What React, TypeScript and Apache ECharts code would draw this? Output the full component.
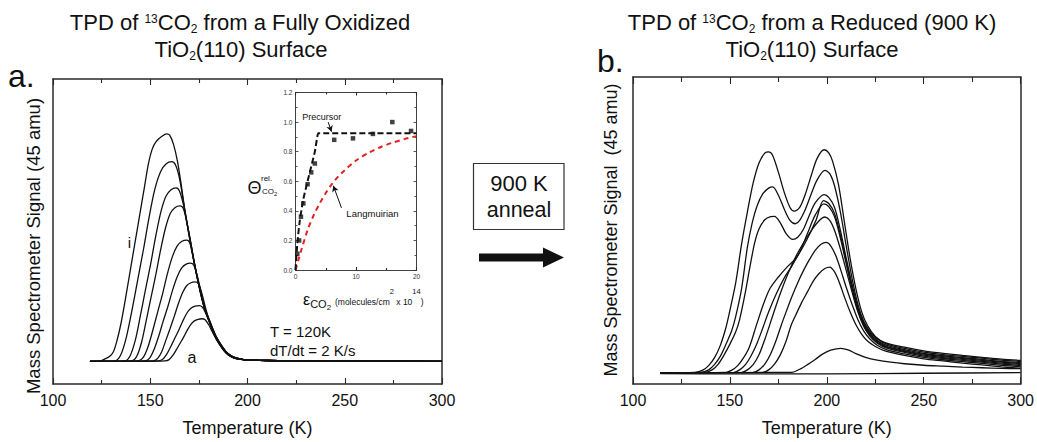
import React, { useEffect, useRef } from "react";
import * as echarts from "echarts";

const FONT = "'Liberation Sans', Arial, Helvetica, sans-serif";

// ---------- Panel a: TPD from fully oxidized surface (T in K, signal arb.) ----------
const tempTicks = [100, 150, 200, 250, 300];
const aCurveI = [[119,7.4],[124,7.5],[127,8.3],[129,9],[131,10.5],[133,14.5],[135,20],[137,27],[139,34.5],[141,42],[143,49.5],[145,57],[147,64.5],[149,72],[151,77],[153,79.5],[156,81.2],[158.5,82],[160,81.6],[162,78.5],[164,73],[166,65],[168,56],[170,48.5],[172,41.5],[174,35.5],[176,30],[178,25],[180.8,20.4],[184,15.5],[187.6,11.8],[190,10],[193,8.8],[198,8.0],[210,7.7],[230,7.6],[260,7.5],[300,7.4]];
const aCurveH = [[119,7.4],[128,7.5],[131.9,7.6],[134.8,9.5],[137.7,15.3],[140.7,24.5],[143.6,34.3],[146.5,44.1],[149.4,54.6],[152.3,63.7],[155.3,69.6],[158.2,72.2],[161.1,72.9],[163,71.8],[165,67.5],[167,60],[169,52.5],[171,45.5],[173,38.5],[175.5,31],[178,24.7],[180.8,20.2],[184,15.3],[187.6,11.7],[190,9.9],[193,8.8],[198,8.0],[210,7.7],[230,7.6],[260,7.5],[300,7.4]];
const aCurveG = [[119,7.4],[132,7.5],[137,7.6],[139.6,9.2],[142.3,14.3],[144.9,22.3],[147.5,30.8],[150.2,39.3],[152.8,48.4],[155.4,56.3],[158,61.5],[160.7,63.7],[163.3,64.3],[165,63.3],[167,59],[169,52.5],[171,45.5],[173,38.5],[175.5,31],[178,24.6],[180.8,20],[184,15.2],[187.6,11.6],[190,9.9],[193,8.7],[198,8.0],[210,7.7],[230,7.6],[260,7.5],[300,7.4]];
const aCurveF = [[119,7.4],[135,7.5],[140.5,7.6],[143,9.0],[145.5,13.6],[147.9,20.7],[150.4,28.4],[152.9,36],[155.4,44.2],[157.9,51.3],[160.3,55.9],[162.8,57.9],[165.3,58.4],[167,57.5],[169,52.5],[171,45.8],[173,38.7],[175.5,31],[178,24.6],[180.8,20],[184,15.2],[187.6,11.6],[190,9.9],[193,8.7],[198,8.0],[210,7.7],[230,7.6],[260,7.5],[300,7.4]];
const aCurveE = [[119,7.4],[138,7.5],[143.9,7.6],[146.4,8.7],[148.9,12.3],[151.4,17.8],[153.9,23.8],[156.4,29.7],[158.8,36.1],[161.3,41.6],[163.8,45.2],[166.3,46.8],[168.8,47.2],[170.5,46],[172.5,40.2],[174.5,33.8],[176.5,28],[178.5,23.6],[181,19.4],[184,15.1],[187.6,11.5],[190,9.8],[193,8.7],[198,8.0],[210,7.7],[230,7.6],[260,7.5],[300,7.4]];
const aCurveD = [[119,7.4],[141,7.5],[147.3,7.6],[149.7,8.5],[152,11.4],[154.4,15.8],[156.7,20.7],[159.1,25.5],[161.4,30.6],[163.8,35.1],[166.1,38],[168.5,39.3],[170.8,39.6],[172.5,38.8],[174.5,34.6],[176.5,29],[178.5,24],[181,19.3],[184,14.9],[187.6,11.4],[190,9.7],[193,8.6],[198,8.0],[210,7.7],[230,7.6],[260,7.5],[300,7.4]];
const aCurveC = [[119,7.4],[146,7.5],[151.6,7.6],[153.7,8.3],[155.9,10.6],[158,14.3],[160.2,18.2],[162.3,22.1],[164.4,26.2],[166.6,29.9],[168.7,32.2],[170.9,33.2],[173,33.5],[174.7,33],[176.5,29.8],[178.5,24.8],[181,19.4],[184,14.8],[187.6,11.3],[190,9.7],[193,8.6],[198,8.0],[210,7.7],[230,7.6],[260,7.5],[300,7.4]];
const aCurveB = [[119,7.4],[149,7.5],[154.2,7.6],[156.3,8.0],[158.4,9.7],[160.5,12.2],[162.6,15],[164.7,17.7],[166.7,20.6],[168.8,23.2],[170.9,24.8],[173,25.5],[175.1,25.7],[176.8,25.2],[178.8,22.8],[181,19.4],[184,14.7],[187.6,11.2],[190,9.6],[193,8.6],[198,8.0],[210,7.7],[230,7.6],[260,7.5],[300,7.4]];
const aCurveA = [[119,7.4],[152,7.5],[157.6,7.6],[159.5,7.9],[161.4,9.2],[163.3,11.1],[165.2,13.2],[167.1,15.3],[168.9,17.5],[170.8,19.5],[172.7,20.7],[174.6,21.2],[176.5,21.4],[178.2,21.1],[180,19.5],[182,17],[184.5,14.1],[187.6,11.1],[190,9.6],[193,8.5],[198,8.0],[210,7.7],[230,7.6],[260,7.5],[300,7.4]];

// ---------- Inset: relative coverage vs exposure ----------
const insetXTicks = [0, 10, 20];
const insetYTicks = [0, 0.2, 0.4, 0.6, 0.8, 1.0, 1.2];
const insetPoints = [[0.3,0.11],[0.6,0.2],[0.9,0.36],[1.3,0.45],[2.0,0.58],[2.6,0.66],[3.2,0.72],[6.4,0.88],[9.5,0.89],[12.8,0.92],[16.0,1.0],[19.1,0.94]];
const precursorFit = [[0,0],[0.3,0.18],[0.7,0.33],[1.3,0.48],[2.0,0.6],[2.6,0.7],[3.2,0.8],[3.6,0.9],[3.8,0.925],[20,0.925]];
const langmuirFit = [[0,0],[0.5,0.07],[1,0.14],[2,0.27],[3,0.37],[4,0.45],[5,0.52],[6,0.58],[7,0.63],[8,0.67],[10,0.74],[12,0.79],[14,0.83],[16,0.86],[18,0.885],[20,0.905]];

// ---------- Panel b: TPD from reduced surface ----------
const bCurve1 = [[114,3.7],[132,3.8],[136,4.5],[139,6],[142,8.5],[145,12.5],[148,18.5],[150,24],[153,33],[156,45.5],[159,56],[162,65.5],[165,72],[168,75.2],[170,75.6],[172,74.5],[175,69],[178,62.5],[181,57.5],[183.2,56.3],[186,57.5],[189,62],[192,68],[195,73.5],[198.6,76.3],[201,75.3],[203,72.5],[206,65],[209,53],[212,41],[215,31],[218,23.5],[221,19],[225,15.5],[230,13.5],[240,12],[250,10.8],[260,10],[270,9.3],[280,8.7],[290,8.1],[300,7.7]];
const bCurve2 = [[114,3.7],[135,3.8],[139,4.6],[142,6.3],[145,9],[148,13],[151,17.5],[153,22],[156,31],[159,44.5],[161.5,52.5],[164,58],[167,62],[170,63.8],[172.1,64.2],[175,61.5],[178,57],[181,53.3],[183.7,52.2],[186,53.3],[189,57],[192,62],[195,66.5],[199,69.6],[201.5,68.5],[204,64.5],[207,56],[210,45],[213,34.5],[216,26],[219,20.5],[222,17.3],[226,14.7],[231,13],[240,11.6],[250,10.4],[260,9.6],[270,9],[280,8.4],[290,7.8],[300,7.4]];
const bCurve3 = [[114,3.7],[137,3.8],[141,4.7],[144,6.5],[147,9.5],[150,13],[153,17],[155,21],[158,30],[160,37],[162.7,45.8],[165,50.5],[168,53.5],[171,54.5],[173,54.6],[176,52.5],[179,49],[182.4,47.1],[185,47.8],[188,50.5],[191,55],[194,59],[198.6,61.7],[201,60.8],[204,57.5],[207,50],[210,41],[213,32.5],[216,25],[219,20],[222,16.8],[226,14.2],[231,12.6],[240,11.2],[250,10],[260,9.2],[270,8.6],[280,8],[290,7.4],[300,7]];
const bCurve4 = [[114,3.7],[148,3.8],[151,4.5],[154,6],[157,8.5],[160,12],[163.6,19],[167,25.5],[170.4,30.8],[174.7,34.6],[179.8,38.3],[184.1,41],[189.2,46.4],[194.4,53.3],[198.3,59.7],[201,58.8],[204,55.5],[207,48.5],[210,40],[213,31.5],[216,24.5],[219,19.5],[222,16.4],[226,13.9],[231,12.2],[240,10.9],[250,9.7],[260,8.9],[270,8.3],[280,7.7],[290,7.1],[300,6.7]];
const bCurve5 = [[114,3.7],[152,3.8],[155,4.6],[158,6.3],[161,9.3],[164,13.3],[167,18.3],[170,23.5],[174,29.5],[178,34.5],[182,38.5],[186,43],[190,49],[194,55],[198.5,58.7],[201,57.8],[204,54.5],[207,47.5],[210,39.2],[213,31],[216,24],[219,19.1],[222,16.1],[226,13.6],[231,12],[240,10.6],[250,9.4],[260,8.6],[270,8],[280,7.4],[290,6.8],[300,6.4]];
const bCurve6 = [[114,3.7],[156,3.8],[159,4.6],[162,6.3],[165,9.5],[168,14.5],[170.4,19],[173,24],[176,29.5],[180,36],[184,41.5],[188,46],[192,50],[196,53.2],[199,54.4],[201.5,53.3],[204,50],[207,44],[210,37],[213,30],[216,23.5],[219,18.8],[222,15.8],[226,13.3],[231,11.7],[240,10.3],[250,9.1],[260,8.3],[270,7.7],[280,7.1],[290,6.5],[300,6.0]];
const bCurve7 = [[114,3.7],[162,3.8],[165,4.6],[168,6.5],[171,9.8],[174,14.5],[176.4,19],[179,23.5],[182,28.5],[185,33],[188,37],[191,40.5],[194,43.5],[197,45.5],[199.8,46.1],[202,45],[204.5,42],[207,37.5],[210,31.5],[213,26],[216,21],[219,17.3],[222,14.8],[226,12.6],[231,11.1],[240,9.8],[250,8.7],[260,7.9],[270,7.3],[280,6.7],[290,6.1],[300,5.6]];
const bCurve8 = [[114,3.7],[167,3.8],[170,4.6],[173,6.5],[176,9.5],[179,14],[181.5,19],[184,22.5],[187,26.5],[190,30],[193,33.5],[196,36],[199,37.6],[201.5,38.1],[204,36.5],[206.5,33],[209,28.5],[212,23.5],[215,19.3],[218,16.2],[221,14],[225,12.2],[230,10.8],[240,9.3],[250,8.2],[260,7.5],[270,6.8],[280,6.2],[290,5.6],[300,5.1]];
const bCurve9 = [[114,3.7],[182,3.8],[186,4.8],[190,6.3],[194,8],[198,9.8],[202,11],[207.2,11.6],[211,11.1],[215,9.9],[220,8.7],[226,7.8],[233,7.1],[240,6.6],[250,6.1],[260,5.8],[270,5.5],[280,5.3],[290,5.1],[300,5.0]];
const bCurve10 = [[114,3.4],[150,3.3],[200,3.3],[250,3.5],[300,3.7]];

const panelACurves = [aCurveI, aCurveH, aCurveG, aCurveF, aCurveE, aCurveD, aCurveC, aCurveB, aCurveA];
const panelBCurves = [bCurve1, bCurve2, bCurve3, bCurve4, bCurve5, bCurve6, bCurve7, bCurve8, bCurve9, bCurve10];

const AXIS_COLOR = "#2a2a2a";

function frameX(gridIndex: number, ticks: number[], tickLen: number, minorLen: number, width: number, label: any, name?: string) {
  const min = ticks[0];
  const max = ticks[ticks.length - 1];
  const interval = ticks[1] - ticks[0];
  const base: any = {
    type: "value", gridIndex, min, max, interval,
    axisLine: { show: true, onZero: false, lineStyle: { color: AXIS_COLOR, width } },
    axisTick: { show: true, inside: true, length: tickLen, lineStyle: { color: AXIS_COLOR, width: 1.1 } },
    minorTick: { show: true, splitNumber: 2, length: minorLen, lineStyle: { color: AXIS_COLOR, width: 1.1 } },
    splitLine: { show: false },
    minorSplitLine: { show: false },
  };
  const bottom: any = { ...base, position: "bottom", axisLabel: label };
  if (name) {
    bottom.name = name;
    bottom.nameLocation = "middle";
    bottom.nameGap = 35;
    bottom.nameTextStyle = { fontSize: 18, color: "#111", fontFamily: FONT };
  }
  const top: any = { ...base, position: "top", axisLabel: { show: false } };
  return [bottom, top];
}

function frameY(gridIndex: number, min: number, max: number, width: number, inset: boolean) {
  const base: any = {
    type: "value", gridIndex, min, max,
    axisLine: { show: true, onZero: false, lineStyle: { color: AXIS_COLOR, width } },
    axisTick: { show: false },
    axisLabel: { show: false },
    splitLine: { show: false },
  };
  if (inset) {
    base.interval = insetYTicks[1] - insetYTicks[0];
    base.axisTick = { show: true, inside: true, length: 3, lineStyle: { color: AXIS_COLOR, width: 0.8 } };
    base.minorTick = { show: true, splitNumber: 2, length: 2, lineStyle: { color: AXIS_COLOR, width: 0.8 } };
  }
  const left: any = { ...base, position: "left" };
  if (inset) {
    left.axisLabel = { show: true, fontSize: 6.5, color: "#333", margin: 3, fontFamily: FONT, formatter: (v: number) => v.toFixed(1) };
  }
  const right: any = { ...base, position: "right", axisLabel: { show: false } };
  return [left, right];
}

const mainLabel = { show: true, fontSize: 16, color: "#111", margin: 8, fontFamily: FONT };
const titleRich = {
  sup: { fontSize: 12, height: 18.6, verticalAlign: "top", fontFamily: FONT, fill: "#111" },
  sub: { fontSize: 12, height: 13.4, verticalAlign: "bottom", fontFamily: FONT, fill: "#111" },
};

function titleText(x: number, y: number, text: string) {
  return {
    type: "text", x, y, silent: true,
    style: { text, fill: "#111", fontSize: 22, fontFamily: FONT, align: "center", verticalAlign: "middle", lineHeight: 26, rich: titleRich },
  };
}

function plainText(x: number, y: number, text: string, size: number, align = "left", extra: any = {}) {
  return {
    type: "text", x, y, silent: true, ...extra,
    style: { text, fill: "#111", fontSize: size, fontFamily: FONT, align, verticalAlign: "middle" },
  };
}

export default function App() {
  const ref = useRef<HTMLDivElement>(null);
  useEffect(() => {
    if (!ref.current) return;
    const chart = echarts.init(ref.current, null, { renderer: "svg" });

    const xAxes = [
      ...frameX(0, tempTicks, 6, 4, 1.5, mainLabel, "Temperature (K)"),
      ...frameX(1, insetXTicks, 3, 2, 0.9, { show: true, fontSize: 6.5, color: "#333", margin: 3, fontFamily: FONT }),
      ...frameX(2, tempTicks, 7, 5, 1.5, mainLabel, "Temperature (K)"),
    ];
    const yAxes = [
      ...frameY(0, 0, 100, 1.5, false),
      ...frameY(1, insetYTicks[0], insetYTicks[insetYTicks.length - 1], 0.9, true),
      ...frameY(2, 0, 100, 1.5, false),
    ];

    const curveSeries = (data: number[][], xi: number, yi: number) => ({
      type: "line", data, xAxisIndex: xi, yAxisIndex: yi,
      showSymbol: false, symbol: "none", smooth: 0.3, silent: true,
      lineStyle: { color: "#111", width: 1.3 }, z: 3,
    });

    const series: any[] = [
      ...panelACurves.map((d) => curveSeries(d, 0, 0)),
      ...panelBCurves.map((d) => curveSeries(d, 4, 4)),
      {
        type: "line", data: langmuirFit, xAxisIndex: 2, yAxisIndex: 2, showSymbol: false, symbol: "none", smooth: 0.3, silent: true,
        lineStyle: { color: "#e3231f", width: 2, type: [5, 4] }, z: 4,
      },
      {
        type: "line", data: precursorFit, xAxisIndex: 2, yAxisIndex: 2, showSymbol: false, symbol: "none", smooth: 0.2, silent: true,
        lineStyle: { color: "#111", width: 2, type: [6, 3] }, z: 4,
      },
      {
        type: "scatter", data: insetPoints, xAxisIndex: 2, yAxisIndex: 2, symbol: "rect", symbolSize: 4.5, silent: true,
        itemStyle: { color: "#111" }, z: 5,
        markLine: {
          silent: true, symbol: ["none", "arrow"], symbolSize: [5, 6], animation: false,
          label: { show: false },
          lineStyle: { color: "#111", width: 1, type: "solid" },
          data: [
            [{ coord: [5.4, 1.0] }, { coord: [5.95, 0.935] }],
            [{ coord: [7.6, 0.42] }, { coord: [6.25, 0.57] }],
          ],
        },
      },
    ];

    const graphic: any[] = [
      titleText(240, 22.5, "TPD of {sup|13}CO{sub|2} from a Fully Oxidized"),
      titleText(241, 49.5, "TiO{sub|2}(110) Surface"),
      titleText(812, 22.5, "TPD of {sup|13}CO{sub|2} from a Reduced (900 K)"),
      titleText(812, 49.5, "TiO{sub|2}(110) Surface"),
      plainText(8, 76, "a.", 32),
      plainText(597, 61, "b.", 32),
      plainText(33, 246, "Mass Spectrometer Signal (45 amu)", 18.5, "center", { rotation: Math.PI / 2 }),
      plainText(611, 230, "Mass Spectrometer Signal  (45 amu)", 18, "center", { rotation: Math.PI / 2 }),
      plainText(129.5, 242, "i", 15, "center"),
      plainText(192, 357, "a", 16, "center"),
      plainText(270, 331.5, "T = 120K", 15),
      plainText(270, 350, "dT/dt = 2 K/s", 15),
      // inset annotations
      plainText(321.7, 116.5, "Precursor", 9, "center"),
      plainText(372.5, 213.5, "Langmuirian", 9.5, "center"),
      plainText(254.5, 187.5, "\u0398", 18, "center"),
      plainText(261, 178, "rel.", 8),
      {
        type: "text", x: 262, y: 191.5, silent: true,
        style: { text: "CO{s|2}", fill: "#111", fontSize: 8, fontFamily: FONT, align: "left", verticalAlign: "middle", lineHeight: 10,
          rich: { s: { fontSize: 6, height: 6, verticalAlign: "bottom", fontFamily: FONT, fill: "#111" } } },
      },
      {
        type: "text", x: 303, y: 299, silent: true,
        style: {
          text: "{eps|\u03b5}{co|CO}{co2|2} {sm|(molecules/cm}{sup|2}{sm| x 10}{sup|14}{sm|)}",
          fill: "#111", fontSize: 14, fontFamily: FONT, align: "left", verticalAlign: "middle", lineHeight: 24,
          rich: {
            eps: { fontSize: 16, fontFamily: FONT, fill: "#111" },
            co: { fontSize: 11, height: 14, verticalAlign: "bottom", fontFamily: FONT, fill: "#111" },
            co2: { fontSize: 8, height: 8, verticalAlign: "bottom", fontFamily: FONT, fill: "#111" },
            sm: { fontSize: 8.5, height: 18, verticalAlign: "bottom", fontFamily: FONT, fill: "#111" },
            sup: { fontSize: 7.5, height: 9, verticalAlign: "top", fontFamily: FONT, fill: "#111" },
          },
        },
      },
      // anneal box and arrow
      { type: "rect", silent: true, shape: { x: 473.5, y: 163.5, width: 90.5, height: 66 }, style: { fill: "none", stroke: "#333", lineWidth: 1.2 } },
      plainText(519, 183.5, "900 K", 22, "center"),
      plainText(519, 209.5, "anneal", 21.5, "center"),
      {
        type: "polygon", silent: true,
        shape: { points: [[479, 253.5], [543, 253.5], [543, 247.5], [564, 257.5], [543, 267.5], [543, 261.5], [479, 261.5]] },
        style: { fill: "#111" },
      },
    ];

    chart.setOption({
      animation: false,
      backgroundColor: "#fff",
      textStyle: { fontFamily: FONT },
      grid: [
        { left: 53, top: 79, width: 389, height: 311 },
        { left: 295.5, top: 92.5, width: 121, height: 177.5 },
        { left: 633, top: 77, width: 390, height: 312 },
      ],
      xAxis: xAxes,
      yAxis: yAxes,
      series,
      graphic,
    });
    return () => chart.dispose();
  }, []);
  return <div ref={ref} style={{ position: "absolute", left: 0, top: 0, width: 1037, height: 442 }} />;
}
